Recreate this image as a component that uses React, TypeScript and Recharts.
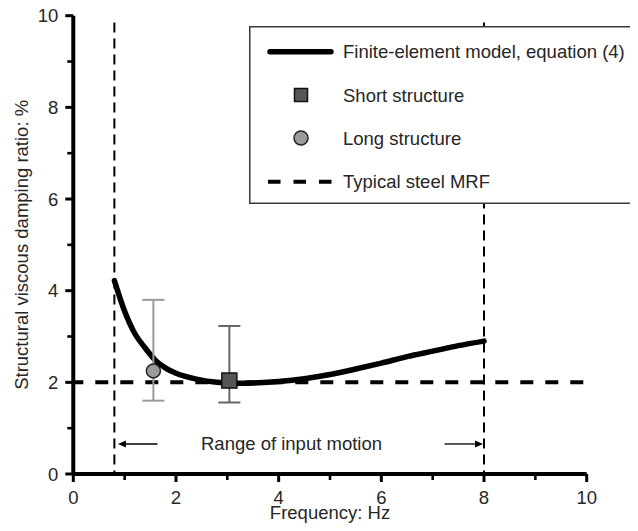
import React from "react";
import {
  ComposedChart,
  Line,
  Scatter,
  ErrorBar,
  XAxis,
  YAxis,
  Legend,
  ReferenceLine,
  ReferenceDot,
} from "recharts";

// finite-element model curve, equation (4)
const curveFreq = [0.8, 1.0, 1.2, 1.4, 1.6, 1.8, 2.0, 2.4, 2.8, 3.2, 3.6, 4.0, 4.5, 5.0, 5.5, 6.0, 6.5, 7.0, 7.5, 8.0];
const curveDamping = [4.22, 3.55, 3.06, 2.75, 2.48, 2.31, 2.2, 2.07, 2.0, 1.98, 1.99, 2.02, 2.08, 2.17, 2.29, 2.42, 2.56, 2.68, 2.8, 2.9];

// measured structures: frequency, damping, error [below, above]
const shortFreq = [3.04];
const shortDamping = [2.04];
const shortErr = [[0.48, 1.19]];
const longFreq = [1.56];
const longDamping = [2.25];
const longErr = [[0.65, 1.55]];

const steelMrfDamping = 2;
const inputRange = [0.8, 8];

const xTicks = [0, 1, 2, 3, 4, 5, 6, 7, 8, 9, 10];
const yTicks = [0, 1, 2, 3, 4, 5, 6, 7, 8, 9, 10];

const legendLabels = [
  "Finite-element model, equation (4)",
  "Short structure",
  "Long structure",
  "Typical steel MRF",
];

const curveData = curveFreq.map((x, i) => ({ x, y: curveDamping[i] }));
const shortData = shortFreq.map((x, i) => ({ x, y: shortDamping[i], err: shortErr[i] }));
const longData = longFreq.map((x, i) => ({ x, y: longDamping[i], err: longErr[i] }));

const FONT = "'Liberation Sans', Arial, sans-serif";
const TEXT = "#262626";
const FS = 18.5;

// tick mark + label (labels on even values only), from the position the axis hands over
const XTick = ({ x, y, payload }: any) => {
  const v = payload.value;
  const major = v % 2 === 0;
  return (
    <g>
      <path d={`M${x},${y} V${y + (major ? 8 : 6)}`} stroke="#000" strokeWidth={major ? 3 : 2.6} fill="none" />
      {major && (
        <text x={x} y={y + 30} textAnchor="middle" fontSize={FS} fill={TEXT} stroke="none">
          {v}
        </text>
      )}
    </g>
  );
};

const YTick = ({ x, y, payload }: any) => {
  const v = payload.value;
  const major = v % 2 === 0;
  return (
    <g>
      <path d={`M${x - (major ? 8 : 6)},${y} H${x}`} stroke="#000" strokeWidth={major ? 3 : 2.6} fill="none" />
      {major && (
        <text x={x - 15} y={y + 6.6} textAnchor="end" fontSize={FS} fill={TEXT} stroke="none">
          {v}
        </text>
      )}
    </g>
  );
};

const YTitle = ({ viewBox }: any) => {
  const vb = viewBox || { x: 15, y: 7.7, width: 50.3, height: 458.3 };
  const cx = vb.x + 5.5;
  const cy = vb.y + vb.height / 2;
  return (
    <text x={cx} y={cy} transform={`rotate(-90, ${cx}, ${cy})`} textAnchor="middle" fontSize={FS} fill={TEXT}>
      Structural viscous damping ratio: %
    </text>
  );
};

const XTitle = ({ viewBox }: any) => {
  const vb = viewBox || { x: 65.3, y: 466, width: 513.4, height: 30 };
  return (
    <text x={vb.x + vb.width / 2} y={vb.y + 45} textAnchor="middle" fontSize={FS} fill={TEXT}>
      Frequency: Hz
    </text>
  );
};

const Arrow = (p: any) => {
  const { x1, y1, x2, y2 } = p;
  const dx = x2 - x1;
  const dy = y2 - y1;
  const len = Math.sqrt(dx * dx + dy * dy) || 1;
  const ux = dx / len;
  const uy = dy / len;
  const hl = 8;
  const hw = 3.6;
  const bx = x2 - ux * hl;
  const by = y2 - uy * hl;
  return (
    <g>
      <line x1={x1} y1={y1} x2={bx} y2={by} stroke="#000" strokeWidth={1.3} />
      <polygon
        points={`${x2},${y2} ${bx - uy * hw},${by + ux * hw} ${bx + uy * hw},${by - ux * hw}`}
        fill="#000"
      />
    </g>
  );
};

const RangeText = ({ cx, cy }: any) => (
  <text x={cx} y={cy + 6.5} textAnchor="middle" fontSize={FS} fill={TEXT}>
    Range of input motion
  </text>
);

const SquareMark = ({ cx, cy }: any) => (
  <rect x={cx - 7.5} y={cy - 7.5} width={15} height={15} fill="#555" stroke="#111" strokeWidth={1.5} />
);

const CircleMark = ({ cx, cy }: any) => (
  <circle cx={cx} cy={cy} r={7} fill="#9a9a9a" stroke="#222" strokeWidth={1.5} />
);

const LegendBox = () => {
  const rows = [25.7, 69, 112, 155.7];
  return (
    <svg width={384} height={178} style={{ display: "block", fontFamily: FONT }}>
      <rect x={0.75} y={0.75} width={382.5} height={176.5} fill="#fff" stroke="#3a3a3a" strokeWidth={1.5} />
      <line x1={21} x2={82} y1={rows[0]} y2={rows[0]} stroke="#000" strokeWidth={5.5} strokeLinecap="round" />
      <rect x={45.5} y={rows[1] - 6.5} width={13} height={13} fill="#555" stroke="#111" strokeWidth={1.5} />
      <circle cx={52} cy={rows[2]} r={7} fill="#9a9a9a" stroke="#222" strokeWidth={1.5} />
      <line x1={19} x2={84} y1={rows[3]} y2={rows[3]} stroke="#000" strokeWidth={4} strokeDasharray="12.5 13" />
      {legendLabels.map((label, i) => (
        <text key={label} x={94} y={rows[i] + 6.6} fontSize={FS} fill={TEXT}>
          {label}
        </text>
      ))}
    </svg>
  );
};

export default function App() {
  return (
    <div style={{ fontFamily: FONT }}>
      <ComposedChart
        width={622}
        height={515}
        margin={{ top: 7.7, right: 43.3, bottom: 19, left: 15 }}
      >
        <XAxis
          dataKey="x"
          type="number"
          domain={[0, 10]}
          ticks={xTicks}
          interval={0}
          tickSize={0}
          tickMargin={0}
          tickLine={false}
          tick={<XTick />}
          axisLine={{ stroke: "#000", strokeWidth: 4 }}
          height={30}
          label={<XTitle />}
        />
        <YAxis
          dataKey="y"
          type="number"
          domain={[0, 10]}
          ticks={yTicks}
          interval={0}
          tickSize={0}
          tickMargin={0}
          tickLine={false}
          tick={<YTick />}
          axisLine={{ stroke: "#000", strokeWidth: 4 }}
          width={50.3}
          label={<YTitle />}
        />
        <ReferenceLine
          y={steelMrfDamping}
          stroke="#000"
          strokeWidth={4}
          strokeDasharray="13 12"
          strokeDashoffset={3}
        />
        {inputRange.map((f) => (
          <ReferenceLine
            key={f}
            segment={[{ x: f, y: 9.85 }, { x: f, y: 0 }]}
            stroke="#000"
            strokeWidth={2}
            strokeDasharray="10 6"
          />
        ))}
        <ReferenceLine segment={[{ x: 1.64, y: 0.655 }, { x: 0.87, y: 0.655 }]} shape={Arrow} />
        <ReferenceLine segment={[{ x: 7.23, y: 0.655 }, { x: 7.98, y: 0.655 }]} shape={Arrow} />
        <ReferenceDot x={4.25} y={0.655} r={0} shape={RangeText} />
        <Line
          data={curveData}
          dataKey="y"
          type="monotone"
          stroke="#000"
          strokeWidth={5.5}
          strokeLinecap="round"
          dot={false}
          activeDot={false}
          isAnimationActive={false}
          name={legendLabels[0]}
        />
        <Scatter data={longData} dataKey="y" shape={CircleMark} isAnimationActive={false} name={legendLabels[2]}>
          <ErrorBar dataKey="err" direction="y" width={11} stroke="#9a9a9a" strokeWidth={2} />
        </Scatter>
        <Scatter data={shortData} dataKey="y" shape={SquareMark} isAnimationActive={false} name={legendLabels[1]}>
          <ErrorBar dataKey="err" direction="y" width={11} stroke="#666" strokeWidth={2} />
        </Scatter>
        <Legend
          layout="vertical"
          align="center"
          verticalAlign="middle"
          content={<LegendBox />}
          wrapperStyle={{ position: "absolute", left: 241, top: 18, width: 384, height: 178 }}
        />
      </ComposedChart>
    </div>
  );
}
